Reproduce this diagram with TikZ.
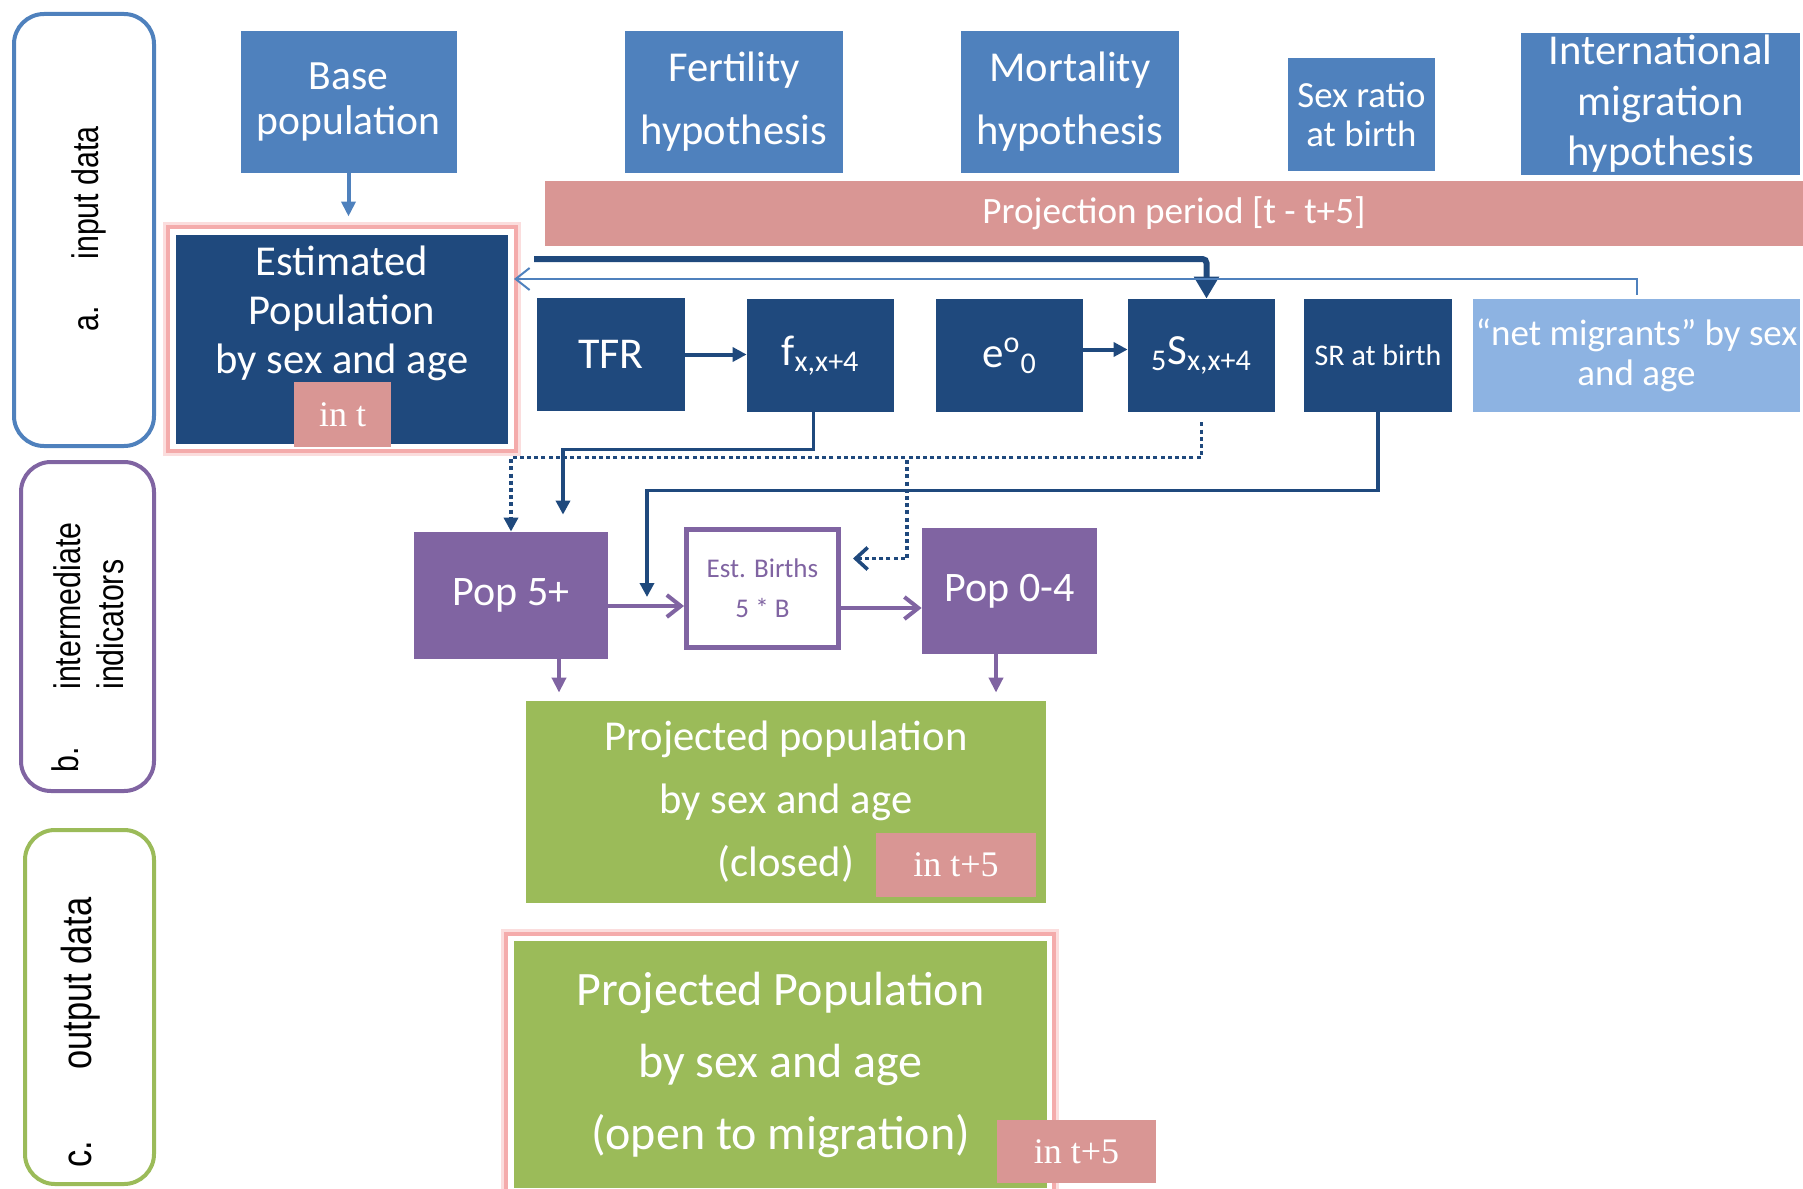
\documentclass[tikz,border=0pt]{standalone}
\usepackage{fontspec}
\setmainfont{Carlito}
\newfontfamily\narrowfont[FakeStretch=0.82]{Liberation Sans}
\newfontfamily\serifnum{Liberation Serif}
\usetikzlibrary{arrows.meta}
\definecolor{medblue}{HTML}{4F81BD}
\definecolor{darkblue}{HTML}{1F497D}
\definecolor{lightblue}{HTML}{8DB3E2}
\definecolor{pinkbar}{HTML}{D99694}
\definecolor{glowpink}{HTML}{F4ABAB}
\definecolor{purplebox}{HTML}{8064A2}
\definecolor{greenbox}{HTML}{9BBB59}
\newcommand\fsz[2]{\fontsize{#1}{#2}\selectfont}

\begin{document}
\begin{tikzpicture}[x=0.5pt,y=-0.5pt,
  box/.style={inner sep=0pt, align=center, text=white},
  inputbox/.style={box, fill=medblue},
  calcbox/.style={box, fill=darkblue},
  popbox/.style={box, fill=purplebox},
  outbox/.style={box, fill=greenbox},
  timebox/.style={box, fill=pinkbar, font=\serifnum\fsz{18}{20}},
  glowbox/.style={fill=white, draw=glowpink, line width=2pt,
    preaction={draw=glowpink!40, line width=5pt}},
  group/.style={inner sep=0pt, line width=2pt, rounded corners=15pt},
  grouptext/.style={rotate=90, anchor=base west, inner sep=0pt,
    font=\narrowfont\fsz{18.5}{21.5}},
  darkarrow/.style={draw=darkblue, line width=2pt, -{Triangle[length=7pt,width=7pt]}},
  dotline/.style={draw=darkblue, line width=1.8pt, dash pattern=on 2pt off 1.6pt},
  purparrow/.style={draw=purplebox, line width=2pt, -{Straight Barb[length=7pt,width=11pt]}},
  purpdown/.style={draw=purplebox, line width=2pt, -{Triangle[length=7.5pt,width=7pt]}, shorten >=4pt}]
\useasboundingbox (0,0) rectangle (1803,1188);

\path (84,230) node[group, draw=medblue, minimum width=70pt, minimum height=216pt] (grpinput) {}
      (87.5,626.5) node[group, draw=purplebox, minimum width=66.5pt, minimum height=164.5pt] (grpinter) {}
      (89.5,1007) node[group, draw=greenbox, minimum width=64.5pt, minimum height=177pt] (grpoutput) {};
\path (98,332) node[grouptext] (lbla) {a.}
      (98,260) node[grouptext] (lblinput) {input data}
      (78,773) node[grouptext] (lblb) {b.}
      (80,690) node[grouptext] (lblinter) {intermediate}
      (123,690) node[grouptext] (lblindic) {indicators}
      (91,1168) node[grouptext, font=\narrowfont\fsz{21}{24}] (lblc) {c.}
      (91,1070) node[grouptext, font=\narrowfont\fsz{21}{24}] (lbloutput) {output data};

\path (348.5,102) node[inputbox, minimum width=108pt, minimum height=71pt, font=\fsz{20.8}{22.5}] (base) {Base\\population}
      (734,102) node[inputbox, minimum width=109pt, minimum height=71pt, font=\fsz{21.3}{31.5}] (fert) {Fertility\\hypothesis}
      (1070,102) node[inputbox, minimum width=109pt, minimum height=71pt, font=\fsz{21.3}{31.5}] (mort) {Mortality\\hypothesis}
      (1361.5,114.5) node[inputbox, minimum width=73.5pt, minimum height=56.5pt, font=\fsz{18.4}{19.5}] (sexratio) {Sex ratio\\at birth}
      (1660.5,104) node[inputbox, minimum width=139.5pt, minimum height=71pt, font=\fsz{21.3}{25.3}] (intmig) {International\\migration\\hypothesis}
      (1174,213) node[box, fill=pinkbar, minimum width=629pt, minimum height=32.5pt, font=\fsz{18.6}{20}] (period) {Projection period [t - t+5]};

\path (342,338.5) node[glowbox, minimum width=174pt, minimum height=112pt] (estglow) {}
      (342,339.5) node[calcbox, minimum width=166pt, minimum height=104.5pt] (estpop) {}
      (342,313) node[box, font=\fsz{21.3}{24.5}] (esttext) {Estimated\\Population\\by sex and age}
      (342.5,414.5) node[timebox, minimum width=48.5pt, minimum height=32.5pt] (timet) {in t};

\path (611,354.5) node[calcbox, minimum width=74pt, minimum height=56.5pt, font=\fsz{22}{24}] (tfr) {TFR}
      (820.5,355.5) node[calcbox, minimum width=73.5pt, minimum height=56.5pt, font=\fsz{21.5}{24}] (fx) {f\textsubscript{x,x+4}}
      (1009.5,355.5) node[calcbox, minimum width=73.5pt, minimum height=56.5pt, font=\fsz{21.5}{24}] (eo) {e\textsuperscript{o}\textsubscript{0}}
      (1201.5,355.5) node[calcbox, minimum width=73.5pt, minimum height=56.5pt, font=\fsz{21.5}{24}] (sx) {\textsubscript{5}S\textsubscript{x,x+4}}
      (1378,355.5) node[calcbox, minimum width=74pt, minimum height=56.5pt, font=\fsz{15}{17}] (srbirth) {SR at birth}
      (1636.5,355.5) node[box, fill=lightblue, minimum width=163.5pt, minimum height=56.5pt, font=\fsz{18.5}{20}] (netmig) {“net migrants” by sex\\and age};

\path (511,595.5) node[popbox, minimum width=97pt, minimum height=63.5pt, font=\fsz{21}{24}] (pop5) {Pop 5+}
      (762.5,588.5) node[box, fill=white, draw=purplebox, line width=2.5pt, text=purplebox, minimum width=76pt, minimum height=59pt, font=\fsz{13.5}{20}] (births) {Est. Births\\5 * B}
      (1009.5,591) node[popbox, minimum width=87.5pt, minimum height=63pt, font=\fsz{21}{24}] (pop04) {Pop 0-4};

\path (786,802) node[outbox, minimum width=260pt, minimum height=101pt, font=\fsz{21.3}{31.5}] (projclosed) {Projected population\\by sex and age\\(closed)}
      (956,865) node[timebox, minimum width=80pt, minimum height=32pt] (timeclosed) {in t+5}
      (779.5,1071.5) node[glowbox, minimum width=274pt, minimum height=138pt] (projglow) {}
      (780.5,1064.5) node[outbox, minimum width=266.5pt, minimum height=123.5pt, font=\fsz{24}{36}] (projopen) {Projected Population\\by sex and age\\(open to migration)}
      (1076.5,1151.5) node[timebox, minimum width=79.5pt, minimum height=31.5pt] (timeopen) {in t+5};

\coordinate (feedback) at (534,259);
\coordinate (migin) at (514,279);
\coordinate (split) at (907,460);
\coordinate (srend) at (647,597);

\draw[medblue, line width=2pt, -{Triangle[length=7.5pt,width=7pt]}, shorten >=4pt] (base.south) -- (base.south |- estglow.north);
\draw[darkblue, line width=3pt, rounded corners=2pt, -{Triangle[length=11pt,width=12pt]}] (feedback) -| ([xshift=2.5pt]sx.north);
\draw[medblue, line width=1pt, -{Straight Barb[length=7pt,width=11pt]}] ([yshift=2pt]netmig.north) |- (migin);
\draw[darkarrow] (tfr.east) -- (tfr.east -| fx.west);
\draw[darkarrow] ([yshift=3pt]eo.east) -- ([yshift=3pt]eo.east -| sx.west);
\draw[darkarrow, line width=1.7pt, shorten >=8.5pt] ([xshift=-3.5pt]fx.south) -- ++(0,37) -| ([xshift=26pt]pop5.north);
\draw[dotline, -{Triangle[length=7pt,width=7pt]}] ([yshift=-5pt]sx.south) -- ++(0,35) -| (pop5.north);
\draw[dotline, -{Straight Barb[length=6pt,width=11pt]}] (split) |- ([xshift=6pt,yshift=15pt]births.east);
\draw[darkarrow, line width=1.7pt] (srbirth.south) -- ++(0,78) -| (srend);
\draw[purparrow] ([yshift=-5.25pt]pop5.east) -- ([yshift=-5.25pt]pop5.east -| births.west);
\draw[purparrow] ([yshift=-9.75pt]births.east) -- ([yshift=-9.75pt]births.east -| pop04.west);
\draw[purpdown] ([xshift=24pt]pop5.south) -- ([xshift=24pt]pop5.south |- projclosed.north);
\draw[purpdown] ([xshift=-6.75pt]pop04.south) -- ([xshift=-6.75pt]pop04.south |- projclosed.north);
\end{tikzpicture}
\end{document}
